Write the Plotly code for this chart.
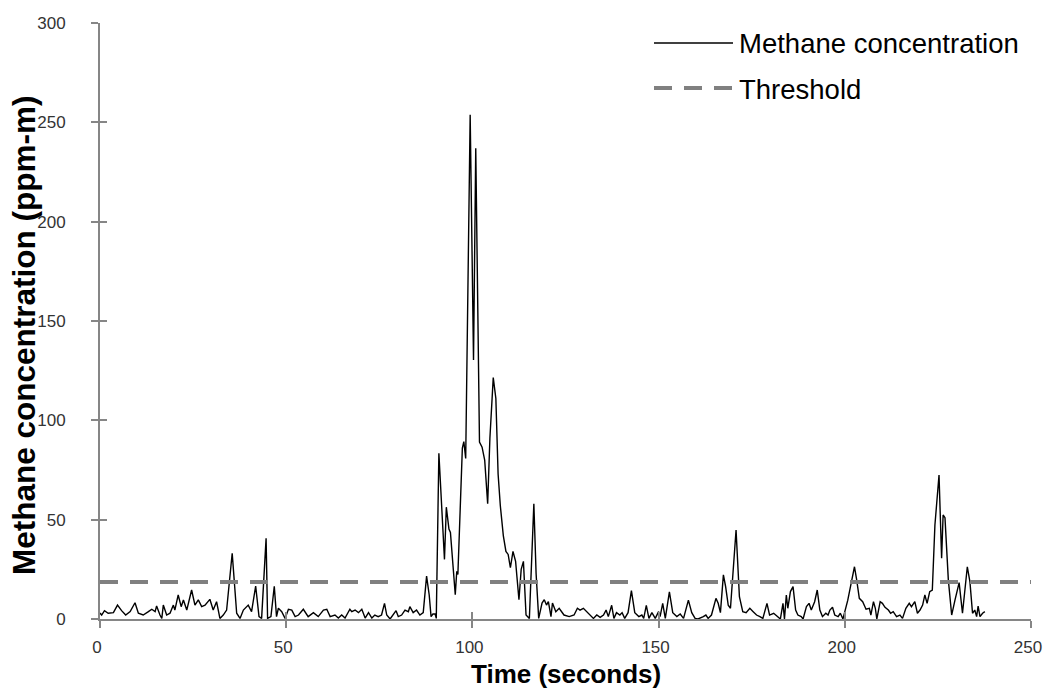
import plotly.graph_objects as go

# ---------------- data ----------------
time_s = [
    0.0, 0.45, 1.2, 2.2, 3.6, 4.7, 5.8, 6.9, 8.1, 9.4, 10.3, 11.6, 13.0, 13.9, 14.8, 15.2,
    16.1, 16.6, 17.0, 17.9, 18.8, 19.7, 20.1, 21.0, 21.8, 22.4, 23.3, 24.6, 25.5, 26.4,
    27.3, 28.2, 29.5, 30.4, 31.3, 32.2, 33.1, 34.0, 35.5, 36.7, 37.6, 38.5, 39.8, 40.7,
    41.8, 42.7, 43.4, 44.6, 45.0, 45.9, 46.8, 47.4, 47.9, 48.8, 49.7, 50.6, 51.5, 52.4,
    53.3, 54.6, 55.9, 57.3, 58.6, 60.0, 60.9, 61.8, 63.1, 64.0, 64.9, 65.8, 67.1, 67.6,
    68.5, 69.4, 70.3, 71.2, 72.1, 73.0, 73.8, 74.7, 75.6, 76.4, 77.0, 77.9, 79.5, 80.1,
    81.0, 81.9, 82.8, 83.2, 84.1, 85.0, 85.9, 86.8, 87.7, 88.4, 88.9, 89.4, 90.0, 90.3,
    91.0, 91.6, 92.5, 93.0, 93.7, 94.1, 94.8, 95.4, 95.8, 96.1, 97.3, 97.7, 98.2, 99.4,
    100.3, 100.9, 101.9, 102.6, 103.3, 104.1, 104.7, 105.6, 106.3, 106.9, 107.5, 108.3,
    109.0, 109.6, 110.2, 110.9, 111.6, 112.5, 113.1, 113.7, 114.4, 115.3, 116.5, 117.1,
    117.8, 118.7, 119.3, 119.9, 120.4, 121.1, 121.5, 122.4, 123.3, 124.6, 126.0, 127.3,
    128.2, 128.9, 129.8, 130.7, 131.6, 132.5, 133.4, 134.3, 135.2, 135.9, 136.5, 137.4,
    138.0, 138.7, 139.6, 140.2, 140.9, 141.8, 142.7, 143.6, 144.7, 145.5, 146.0, 146.7,
    147.4, 148.2, 149.1, 150.0, 150.4, 151.1, 151.8, 152.9, 153.8, 154.9, 155.8, 156.7,
    158.0, 158.9, 159.8, 160.6, 162.0, 162.7, 163.3, 164.2, 165.4, 166.0, 166.6, 167.4,
    168.0, 168.7, 169.3, 170.8, 171.7, 172.6, 173.5, 174.5, 175.4, 176.3, 177.2, 178.0,
    179.1, 179.8, 180.9, 181.8, 182.7, 183.4, 183.8, 184.3, 184.7, 185.4, 186.1, 186.8,
    187.4, 188.3, 188.8, 189.7, 190.4, 191.0, 191.9, 192.6, 193.3, 194.0, 194.9, 195.5,
    196.0, 196.7, 197.3, 198.2, 198.8, 199.5, 200.2, 200.8, 201.7, 202.6, 203.2, 203.9,
    204.8, 205.7, 206.6, 207.0, 207.7, 208.2, 208.6, 209.5, 210.1, 210.8, 211.7, 212.3,
    213.0, 213.9, 214.8, 215.5, 216.4, 217.3, 217.9, 218.8, 219.5, 220.2, 220.9, 221.5,
    222.1, 222.8, 223.5, 224.2, 225.3, 226.0, 226.4, 226.9, 227.8, 228.7, 229.6, 230.7,
    231.6, 232.9, 233.6, 234.3, 234.9, 235.4, 235.8, 236.3, 237.0, 237.6,
]

methane_ppm_m = [
    3.0, 2.0, 4.2, 2.9, 3.2, 7.0, 4.2, 2.0, 3.7, 8.2, 2.9, 2.0, 3.7, 4.9, 3.7, 6.6,
    2.0, 0.3, 7.0, 2.0, 2.9, 7.0, 4.5, 12.1, 6.2, 9.6, 4.5, 14.6, 7.0, 9.6,
    6.2, 7.0, 9.9, 4.5, 8.7, 0.3, 2.0, 4.5, 33.1, 2.9, 0.3, 4.5, 7.0, 3.7,
    16.6, 1.2, 0.3, 40.6, 0.3, 1.2, 16.5, 1.2, 5.4, 3.7, 0.3, 4.9, 4.5, 1.2,
    2.0, 4.9, 1.2, 3.2, 1.2, 4.5, 4.9, 1.2, 2.0, 0.5, 2.0, 0.5, 4.9, 3.7,
    4.5, 3.2, 4.9, 0.5, 3.2, 0.5, 2.0, 1.2, 2.0, 7.9, 2.0, 0.0, 4.2, 1.2,
    2.0, 4.5, 3.7, 6.2, 3.2, 4.5, 2.0, 3.2, 21.6, 12.1, 1.2, 2.5, 2.5, 0.3,
    83.4, 58.8, 30.0, 56.3, 45.3, 43.6, 26.6, 12.2, 24.0, 22.4, 86.0, 89.3, 80.8, 253.8,
    130.4, 237.0, 89.0, 86.5, 80.0, 58.0, 91.0, 121.5, 111.0, 73.0, 57.0, 42.0,
    34.0, 32.5, 25.8, 34.0, 29.0, 9.7, 25.0, 29.0, 2.0, 0.3, 58.0, 23.0,
    0.3, 8.0, 9.7, 7.0, 8.8, 1.2, 8.0, 3.7, 5.4, 2.0, 1.2, 2.0,
    5.4, 4.5, 5.4, 3.7, 2.0, 0.3, 2.0, 0.8, 2.0, 4.5, 1.2, 6.9,
    0.3, 3.2, 2.0, 3.2, 0.3, 3.2, 14.3, 3.2, 1.2, 2.0, 0.3, 6.9,
    0.3, 3.2, 0.3, 3.7, 1.2, 7.9, 0.3, 13.6, 3.2, 1.2, 2.5, 0.3,
    9.5, 3.2, 0.3, 0.0, 1.2, 2.0, 0.3, 2.0, 10.4, 7.9, 3.2, 22.2,
    16.3, 6.9, 5.4, 44.8, 11.2, 3.7, 3.2, 5.4, 3.7, 2.0, 1.2, 0.3,
    7.9, 2.0, 2.9, 1.5, 0.0, 7.9, 0.0, 12.1, 5.4, 13.8, 16.3, 4.5,
    2.0, 1.2, 0.0, 6.2, 7.9, 4.5, 8.7, 14.6, 4.5, 1.2, 2.9, 2.0,
    4.5, 5.9, 2.0, 1.2, 2.9, 0.0, 4.5, 9.5, 17.9, 26.3, 19.6, 10.4,
    8.7, 4.9, 5.4, 2.0, 8.7, 5.4, 0.0, 8.7, 7.9, 5.9, 4.5, 2.9,
    3.7, 1.2, 2.0, 0.3, 5.4, 7.9, 6.2, 8.7, 2.9, 4.5, 7.0, 12.1,
    7.9, 13.8, 14.6, 47.3, 72.5, 30.6, 52.4, 51.0, 19.7, 2.0, 9.6, 18.3,
    2.9, 26.3, 18.7, 2.9, 4.5, 1.2, 6.5, 1.2, 2.9, 3.7,
]

threshold_value = 18.6
threshold_span = [0, 250]

x_ticks = [0, 50, 100, 150, 200, 250]
y_ticks = [0, 50, 100, 150, 200, 250, 300]

series_names = ["Methane concentration", "Threshold"]
x_title = "Time (seconds)"
y_title = "Methane concentration (ppm-m)"

# ---------------- figure ----------------
W, H = 1043, 695
L, R, T, B = 100, 12, 23, 76
plot_w = W - L - R
plot_h = H - T - B

FONT = "Liberation Sans, Arial, sans-serif"
AXIS_GREY = "#868686"

fig = go.Figure()

fig.add_trace(go.Scatter(
    x=time_s, y=methane_ppm_m, mode="lines", name=series_names[0],
    line=dict(color="#000000", width=1.4), showlegend=False,
))
fig.add_trace(go.Scatter(
    x=threshold_span, y=[threshold_value, threshold_value], mode="lines",
    name=series_names[1],
    line=dict(color="#808080", width=4, dash="18px,12px"), showlegend=False,
))


def px_to_paper_x(px):
    return (px - L) / plot_w


def px_to_paper_y(py):
    return (H - B - py) / plot_h


# custom legend (long line samples like the reference)
leg_rows = [(43, dict(color="#000000", width=1.4)),
            (88, dict(color="#808080", width=4, dash="18px,12px"))]
for (row_y, ln), name in zip(leg_rows, series_names):
    fig.add_shape(type="line", xref="paper", yref="paper",
                  x0=px_to_paper_x(654), x1=px_to_paper_x(733),
                  y0=px_to_paper_y(row_y), y1=px_to_paper_y(row_y),
                  line=ln)
    fig.add_annotation(xref="paper", yref="paper", x=px_to_paper_x(737),
                       y=px_to_paper_y(row_y + 1), text=name, showarrow=False,
                       xanchor="left", yanchor="middle",
                       font=dict(family=FONT, size=27.5, color="#000000"))

# axis titles as annotations for exact placement
fig.add_annotation(xref="paper", yref="paper", x=px_to_paper_x(24),
                   y=px_to_paper_y(335), text=f"<b>{y_title}</b>",
                   textangle=-90, showarrow=False, xanchor="center",
                   yanchor="middle",
                   font=dict(family=FONT, size=31.5, color="#000000"))
fig.add_annotation(xref="paper", yref="paper", x=px_to_paper_x(566),
                   y=px_to_paper_y(674), text=f"<b>{x_title}</b>",
                   showarrow=False, xanchor="center", yanchor="middle",
                   font=dict(family=FONT, size=26, color="#000000"))

common_axis = dict(
    showgrid=False, zeroline=False, showline=True, linecolor=AXIS_GREY,
    linewidth=2, ticks="outside", tickcolor=AXIS_GREY, tickwidth=1.5, ticklen=7,
    tickfont=dict(family=FONT, size=17, color="#333333"),
    automargin=False, ticklabeloverflow="allow",
)

fig.update_layout(
    width=W, height=H,
    margin=dict(l=L, r=R, t=T, b=B, pad=0, autoexpand=False),
    paper_bgcolor="white", plot_bgcolor="white",
    xaxis=dict(range=[0, 250], tickvals=x_ticks, ticklabelstandoff=5,
               ticklabelshift=-3, **common_axis),
    yaxis=dict(range=[0, 300], tickvals=y_ticks, ticklabelstandoff=22,
               **common_axis),
    # overlay axes give the inner half of the "cross" tick marks
    xaxis2=dict(range=[0, 250], tickvals=x_ticks, overlaying="x", anchor="y",
                side="bottom", showgrid=False, zeroline=False, showline=False,
                ticks="inside", ticklen=7, tickwidth=1.5, tickcolor=AXIS_GREY,
                showticklabels=False, automargin=False),
    yaxis2=dict(range=[0, 300], tickvals=y_ticks, overlaying="y", anchor="x",
                side="left", showgrid=False, zeroline=False, showline=False,
                ticks="inside", ticklen=7, tickwidth=1.5, tickcolor=AXIS_GREY,
                showticklabels=False, automargin=False),
)

# invisible trace so the overlay axes get drawn
fig.add_trace(go.Scatter(x=[0], y=[0], xaxis="x2", yaxis="y2", mode="markers",
                         marker=dict(opacity=0), showlegend=False,
                         hoverinfo="skip"))

fig.write_html("out.html")
